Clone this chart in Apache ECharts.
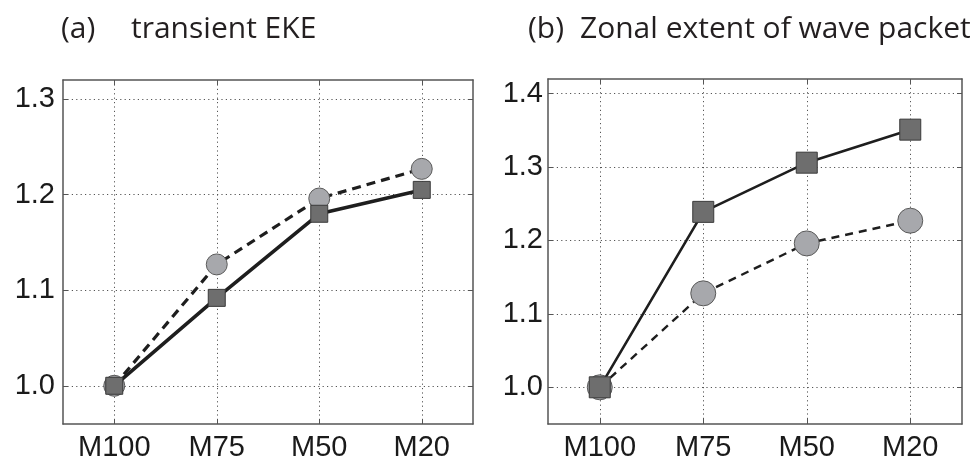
<!DOCTYPE html>
<html>
<head>
<meta charset="utf-8">
<script src="https://cdn.jsdelivr.net/npm/echarts@6/dist/echarts.min.js"></script>
<style>
  html, body { margin: 0; padding: 0; background: #fff; }
  #chart { width: 973px; height: 463px; }
</style>
</head>
<body>
<div id="chart"></div>
<script>
// Experiments along the x axis
const categories = ['M100', 'M75', 'M50', 'M20'];

// (a) transient EKE, normalised by M100
const ekeSquares = [1.0, 1.092, 1.180, 1.205];
const ekeCircles = [1.0, 1.127, 1.196, 1.227];

// (b) zonal extent of wave packet, normalised by M100
const zonalSquares = [1.0, 1.239, 1.306, 1.351];
const zonalCircles = [1.0, 1.128, 1.196, 1.227];

// Tick labels
const ticksA = [1.0, 1.1, 1.2, 1.3];
const ticksB = [1.0, 1.1, 1.2, 1.3, 1.4];

const catIdx = categories.map((c, i) => i);
const toPoints = vals => categories.map((c, i) => [i, vals[i]]);

const gridLine = { show: true, lineStyle: { color: '#555', width: 1, type: [1.2, 3.2] } };
const frame = { show: true, onZero: false, lineStyle: { color: '#555', width: 1.5 } };
const labelFont = { fontFamily: 'Liberation Sans', fontSize: 29, color: '#1a1a1a' };

function xAxes(gi) {
  return [
    {
      type: 'value', gridIndex: gi, min: -0.5, max: 3.5,
      axisLine: frame,
      axisTick: { show: true, inside: true, length: 5, customValues: catIdx, lineStyle: { color: '#555' } },
      axisLabel: Object.assign({ customValues: catIdx, margin: 9,
        formatter: v => categories[Math.round(v)] }, labelFont),
      splitLine: gridLine
    },
    {
      type: 'value', gridIndex: gi, position: 'top', min: -0.5, max: 3.5,
      axisLine: frame,
      axisTick: { show: true, inside: true, length: 5, customValues: catIdx, lineStyle: { color: '#555' } },
      axisLabel: { show: false },
      splitLine: { show: false }
    }
  ];
}

function yAxes(gi, min, max, ticks, margin) {
  return [
    {
      type: 'value', gridIndex: gi, min: min, max: max,
      axisLine: frame,
      axisTick: { show: true, inside: true, length: 5, customValues: ticks, lineStyle: { color: '#555' } },
      axisLabel: Object.assign({ customValues: ticks, margin: margin,
        formatter: v => v.toFixed(1) }, labelFont),
      splitLine: gridLine
    },
    {
      type: 'value', gridIndex: gi, position: 'right', min: min, max: max,
      axisLine: frame,
      axisTick: { show: true, inside: true, length: 5, customValues: ticks, lineStyle: { color: '#555' } },
      axisLabel: { show: false },
      splitLine: { show: false }
    }
  ];
}

function circleSeries(xi, yi, vals, size, lw, dash) {
  return {
    type: 'line', xAxisIndex: xi, yAxisIndex: yi, data: toPoints(vals),
    symbol: 'circle', symbolSize: size,
    lineStyle: { color: '#1e1e1e', width: lw, type: dash },
    itemStyle: { color: '#a7a8ac', borderColor: '#5a5a5a', borderWidth: 1 },
    z: 2, animation: false, silent: true
  };
}

function squareSeries(xi, yi, vals, size, lw) {
  return {
    type: 'line', xAxisIndex: xi, yAxisIndex: yi, data: toPoints(vals),
    symbol: 'rect', symbolSize: size,
    lineStyle: { color: '#1e1e1e', width: lw, type: 'solid' },
    itemStyle: { color: '#6e6e6e', borderColor: '#3a3a3a', borderWidth: 1 },
    z: 3, animation: false, silent: true
  };
}

const titleFont = { fontFamily: 'Open Sans', fontSize: 30, fontWeight: 'normal', color: '#231f20' };

const chart = echarts.init(document.getElementById('chart'), null, { renderer: 'canvas' });
chart.setOption({
  backgroundColor: '#fff',
  animation: false,
  title: [
    { text: '(a)', left: 56, top: 9, textStyle: titleFont },
    { text: 'transient EKE', left: 126, top: 9, textStyle: titleFont },
    { text: '(b)', left: 523, top: 9, textStyle: titleFont },
    { text: 'Zonal extent of wave packet', left: 575, top: 9, textStyle: titleFont }
  ],
  grid: [
    { left: 63, top: 80, width: 410, height: 344 },
    { left: 548, top: 79, width: 414, height: 345 }
  ],
  xAxis: xAxes(0).concat(xAxes(1)),
  yAxis: yAxes(0, 0.96, 1.32, ticksA, 8).concat(yAxes(1, 0.95, 1.42, ticksB, 5)),
  series: [
    circleSeries(0, 0, ekeCircles, 21, 3.2, [9, 6]),
    squareSeries(0, 0, ekeSquares, 17, 3.6),
    circleSeries(2, 2, zonalCircles, 25, 2.4, [8, 6]),
    squareSeries(2, 2, zonalSquares, 21, 2.6)
  ]
});
</script>
</body>
</html>
